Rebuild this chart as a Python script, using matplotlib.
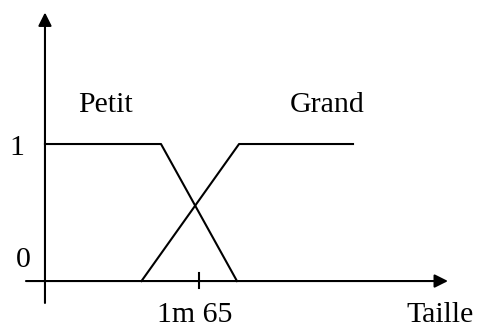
import numpy as np
import matplotlib
matplotlib.use("Agg")
import matplotlib.pyplot as plt

# fonctions d'appartenance (taille en cm, degre 0..1)
petit_x = [150, 161.3, 168.7]
petit_y = [1, 1, 0]
grand_x = [159.4, 168.9, 180.0]
grand_y = [0, 1, 1]
tick_x = 165
tick_label = "1m 65"
y_labels = ["0", "1"]

plt.rcParams['font.family'] = ['Liberation Serif', 'DejaVu Serif']

fig = plt.figure(figsize=(4.79, 3.29), dpi=100)
ax = fig.add_axes([0, 0, 1, 1])
ax.set_xlim(145.62, 192.27)
ax.set_ylim(-0.350, 2.051)
ax.axis('off')

lw = 1.5
ax.plot(petit_x, petit_y, color='black', lw=lw)
ax.plot(grand_x, grand_y, color='black', lw=lw)

# axes avec fleches
ax.annotate('', xy=(189.25, 0), xytext=(148.15, 0),
            arrowprops=dict(arrowstyle='-|>', color='black', lw=lw,
                            mutation_scale=20, shrinkA=0, shrinkB=0))
ax.annotate('', xy=(150, 1.96), xytext=(150, -0.16),
            arrowprops=dict(arrowstyle='-|>', color='black', lw=lw,
                            mutation_scale=20, shrinkA=0, shrinkB=0))

# graduation 1m65
ax.plot([tick_x, tick_x], [-0.05, 0.06], color='black', lw=lw)

fs = 21.5
ax.text(155.9, 1.234, "Petit", fontsize=fs, ha='center', va='baseline')
ax.text(177.5, 1.234, "Grand", fontsize=fs, ha='center', va='baseline')
ax.text(147.22, 0.920, y_labels[1], fontsize=fs, ha='center', va='baseline')
ax.text(147.86, 0.102, y_labels[0], fontsize=fs, ha='center', va='baseline')
ax.text(164.56, -0.300, tick_label, fontsize=fs, ha='center', va='baseline')
ax.text(188.5, -0.300, "Taille", fontsize=fs, ha='center', va='baseline')

fig.savefig("out.png", dpi=100)
